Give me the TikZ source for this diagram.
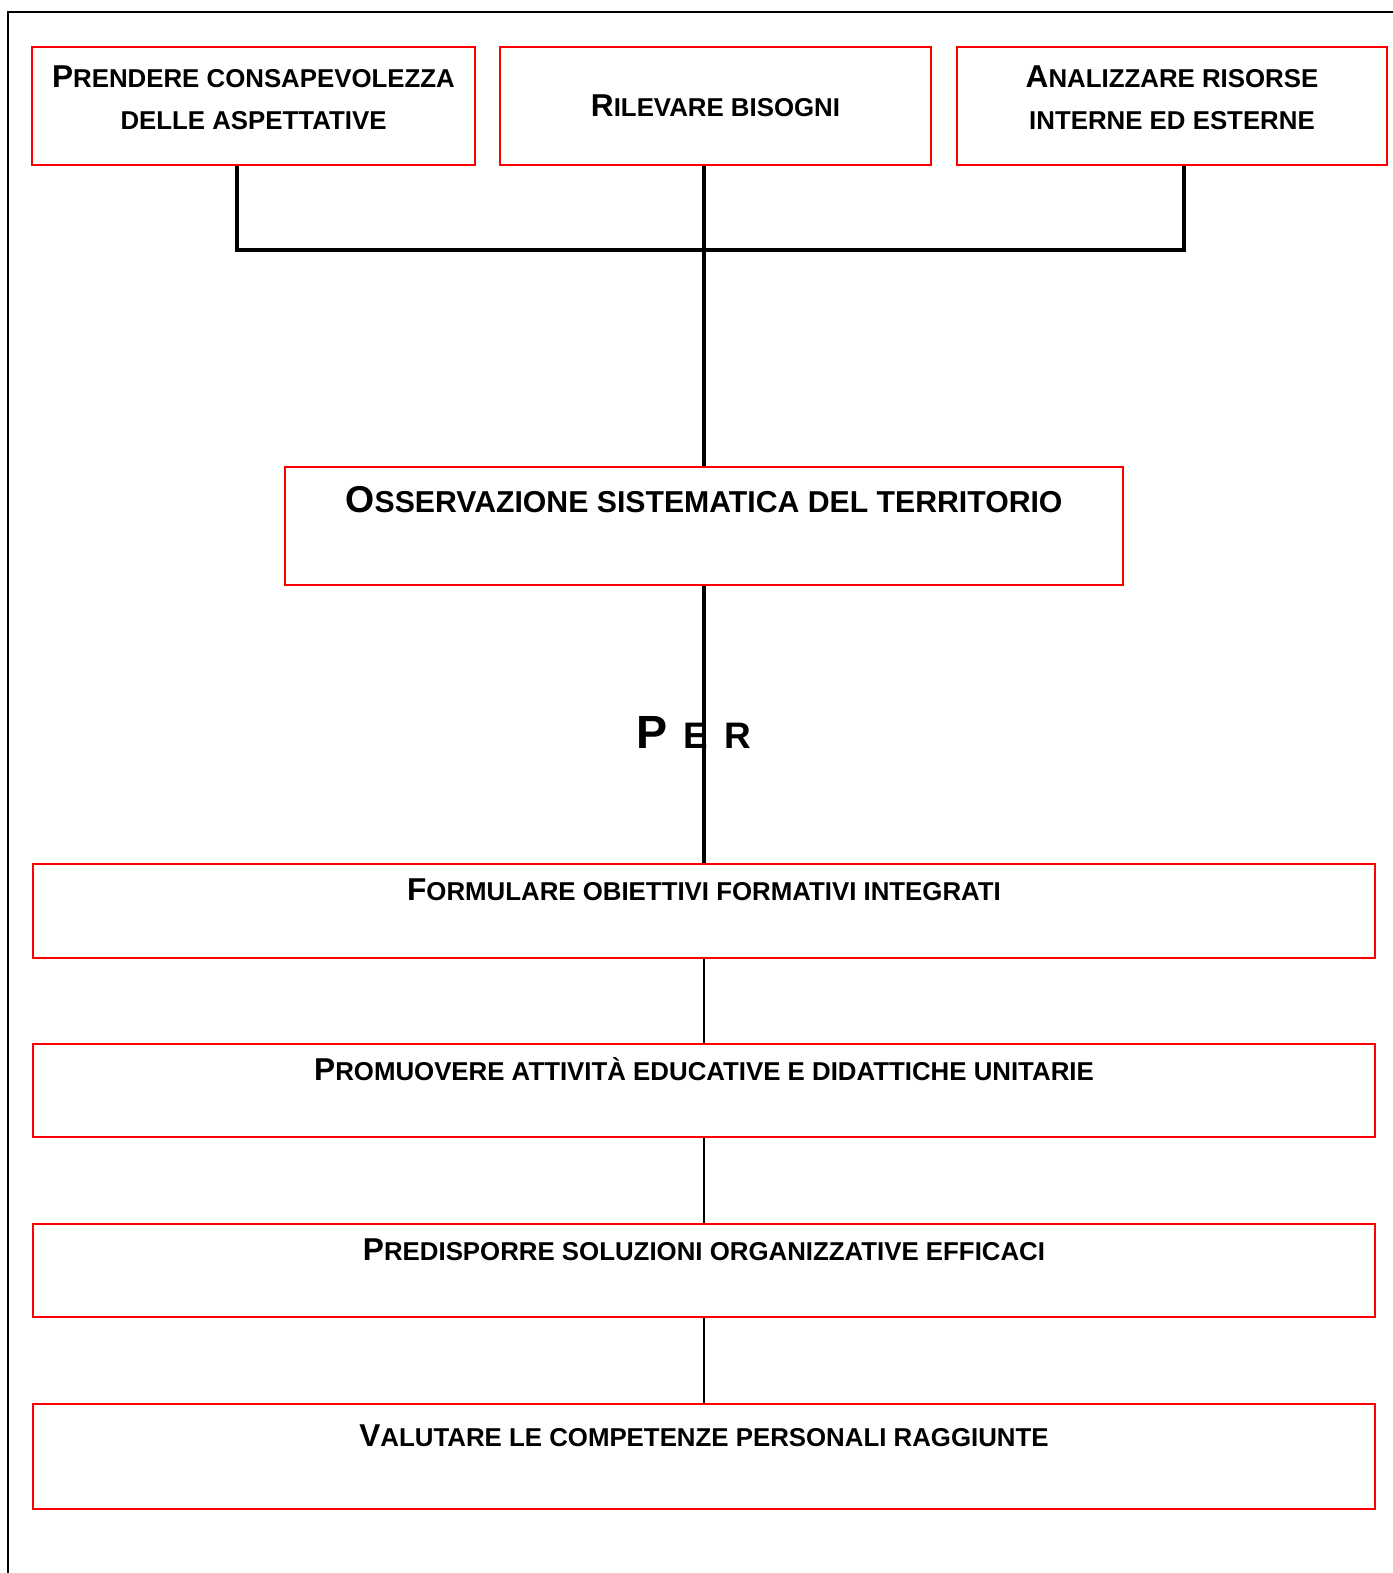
\documentclass[tikz,border=0pt]{standalone}
\usepackage{fontspec}
\setmainfont{Liberation Sans}
\usetikzlibrary{positioning}

\newcommand{\ini}[1]{{\fontsize{18}{24}\selectfont #1}}
\newcommand{\inibig}[1]{{\fontsize{21.3}{30}\selectfont #1}}
\newcommand{\iniper}[1]{{\fontsize{26.5}{30}\selectfont #1}}

\begin{document}
\begin{tikzpicture}[x=0.02cm,y=-0.02cm,
  every node/.style={font=\bfseries\fontsize{14.7}{24}\selectfont, align=center, inner sep=0pt},
  box/.style={draw=red, line width=1.1pt},
  topbox/.style={box, minimum height=2.36cm},
  twoline/.style={text depth=0.32cm},
  rowbox/.style={box, minimum width=26.84cm},
  trunk/.style={line width=2.3pt},
  link/.style={line width=1.1pt}]
\useasboundingbox (0,0) rectangle (1393,1573);
\draw[line width=1.1pt] (8,1573) -- (8,12) -- (1393,12);

\node[topbox, twoline, minimum width=8.86cm] (aspettative) at (253.5,106) {\ini{P}RENDERE CONSAPEVOLEZZA\\DELLE ASPETTATIVE};
\node[topbox, minimum width=8.62cm] (bisogni) at (715.5,106) {\ini{R}ILEVARE BISOGNI};
\node[topbox, twoline, minimum width=8.60cm] (risorse) at (1172,106) {\ini{A}NALIZZARE RISORSE\\INTERNE ED ESTERNE};

\node[box, minimum width=16.76cm, minimum height=2.36cm,
  font=\bfseries\fontsize{17.2}{30}\selectfont] (territorio) at (704,526)
  {\inibig{O}SSERVAZIONE SISTEMATICA DEL TERRITORIO\\ };

\node[font=\bfseries\fontsize{21}{30}\selectfont] (per) at (694,732) {\iniper{P} \,E \,R};

\node[rowbox, minimum height=1.88cm] (obiettivi) at (704,911) {\ini{F}ORMULARE OBIETTIVI FORMATIVI INTEGRATI\\ };
\node[rowbox, minimum height=1.86cm] (attivita) at (704,1090.5) {\ini{P}ROMUOVERE ATTIVITÀ EDUCATIVE E DIDATTICHE UNITARIE\\ };
\node[rowbox, minimum height=1.86cm] (soluzioni) at (704,1270.5) {\ini{P}REDISPORRE SOLUZIONI ORGANIZZATIVE EFFICACI\\ };
\node[rowbox, minimum height=2.10cm] (competenze) at (704,1456.5) {\ini{V}ALUTARE LE COMPETENZE PERSONALI RAGGIUNTE\\ };

\coordinate (j1) at (237,250);
\coordinate (j3) at (1184,250);
\draw[trunk] (j1 |- aspettative.south) -- (j1) -- (j3) -- (j3 |- risorse.south);
\draw[trunk] (territorio.north |- bisogni.south) -- (territorio.north);
\draw[trunk] (territorio.south) -- (obiettivi.north);
\draw[link] (obiettivi) -- (attivita);
\draw[link] (attivita) -- (soluzioni);
\draw[link] (soluzioni) -- (competenze);
\end{tikzpicture}
\end{document}
